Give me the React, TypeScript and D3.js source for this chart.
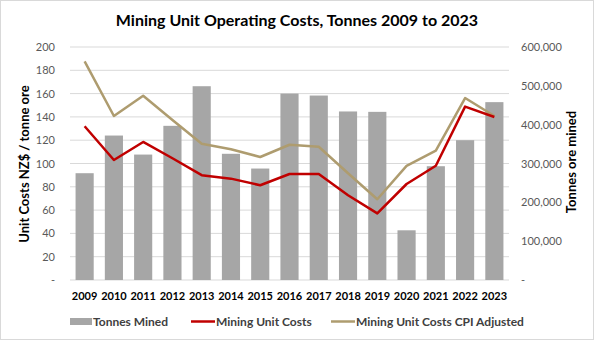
import React from "react";
import * as d3 from "d3";

const years = ["2009","2010","2011","2012","2013","2014","2015","2016","2017","2018","2019","2020","2021","2022","2023"];
const tonnesMined = [275000,372000,323000,397000,499000,325000,287000,480000,475000,434000,433000,128000,293000,360000,458000];
const unitCosts = [132,103,118.5,104.5,90,87,81.3,91,91,72.7,57.2,82.4,98.1,148.8,139.9];
const unitCostsCPI = [187.7,140.8,158.2,137.3,117,112.2,105.6,116.1,114.4,91.6,69.3,97.9,111,156.2,140.8];
const leftTicks = [0,20,40,60,80,100,120,140,160,180,200];
const rightTicks = [0,100000,200000,300000,400000,500000,600000];

const W = 594, H = 340;
const FONT = "Lato, 'Liberation Sans', sans-serif";

export default function App() {
  const x = d3.scaleBand().domain(years).range([70, 509]).paddingInner(0.38).paddingOuter(0.19);
  const yL = d3.scaleLinear().domain([0, 200]).range([280, 47]);
  const yR = d3.scaleLinear().domain([0, 600000]).range([280, 47]);
  const cx = (d: string) => (x(d) as number) + x.bandwidth() / 2;
  const line = d3.line<number>().x((_, i) => cx(years[i])).y((v) => yL(v));
  const fmtR = (v: number) => (v === 0 ? "-" : d3.format(",")(v));

  return (
    <svg width={W} height={H} style={{ position: "absolute", left: 0, top: 0, display: "block" }} fontFamily={FONT}>
      <rect x={0.5} y={0.5} width={W - 1} height={H - 1} fill="#fff" stroke="#d9d9d9" />
      <text x={W / 2} y={26} textAnchor="middle" fontSize={16} fontWeight="bold" fill="#000">
        Mining Unit Operating Costs, Tonnes 2009 to 2023
      </text>
      {leftTicks.map((t) => (
        <g key={"l" + t}>
          <line x1={70} x2={509} y1={yL(t)} y2={yL(t)} stroke="#d9d9d9" strokeWidth={1} />
          <text x={55} y={yL(t) + 4} textAnchor="end" fontSize={11} fill="#595959">
            {t === 0 ? "-" : t}
          </text>
        </g>
      ))}
      {rightTicks.map((t) => (
        <text key={"r" + t} x={521} y={yR(t) + 4} textAnchor="start" fontSize={11} fill="#595959">
          {fmtR(t)}
        </text>
      ))}
      {years.map((y, i) => (
        <rect key={"b" + y} x={x(y)} y={yR(tonnesMined[i])} width={x.bandwidth()} height={280 - yR(tonnesMined[i])} fill="#a6a6a6" />
      ))}
      <path d={line(unitCostsCPI) || ""} fill="none" stroke="#ae9c6f" strokeWidth={2.5} strokeLinejoin="round" />
      <path d={line(unitCosts) || ""} fill="none" stroke="#c00000" strokeWidth={2.5} strokeLinejoin="round" />
      {years.map((y) => (
        <text key={"x" + y} x={cx(y)} y={300} textAnchor="middle" fontSize={11} fontWeight="bold" fill="#000">
          {y}
        </text>
      ))}
      <text transform={`translate(29,164) rotate(-90)`} textAnchor="middle" fontSize={13} fontWeight="bold" fill="#000">
        Unit Costs NZ$ / tonne ore
      </text>
      <text transform={`translate(576,162) rotate(-90)`} textAnchor="middle" fontSize={13} fontWeight="bold" fill="#000">
        Tonnes ore mined
      </text>
      <g fontSize={12} fontWeight="bold" fill="#404040">
        <rect x={70} y={318} width={22} height={7} fill="#a6a6a6" />
        <text x={93} y={326}>Tonnes Mined</text>
        <line x1={191} x2={215} y1={321.5} y2={321.5} stroke="#c00000" strokeWidth={2.5} />
        <text x={216} y={326}>Mining Unit Costs</text>
        <line x1={331} x2={355} y1={321.5} y2={321.5} stroke="#ae9c6f" strokeWidth={2.5} />
        <text x={356} y={326}>Mining Unit Costs CPI Adjusted</text>
      </g>
    </svg>
  );
}
